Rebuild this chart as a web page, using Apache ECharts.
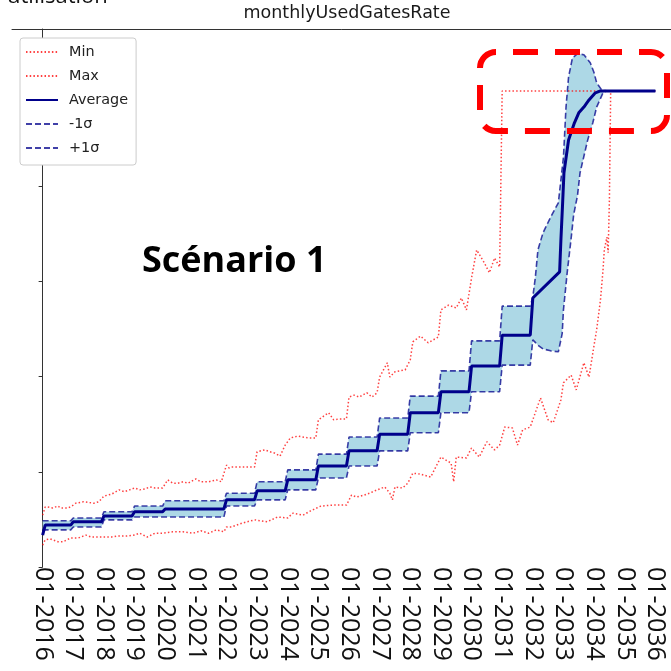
<!DOCTYPE html>
<html>
<head>
<meta charset="utf-8">
<script src="https://cdn.jsdelivr.net/npm/echarts@6/dist/echarts.min.js"></script>
<style>
html,body{margin:0;padding:0;background:#fff;}
#chart{width:671px;height:671px;}
</style>
</head>
<body>
<div id="chart"></div>
<script>
// ---- Data (x = month index from 01-2016, y = monthlyUsedGatesRate) ----
const xTickLabels = ['01-2016','01-2017','01-2018','01-2019','01-2020','01-2021','01-2022','01-2023','01-2024','01-2025','01-2026','01-2027','01-2028','01-2029','01-2030','01-2031','01-2032','01-2033','01-2034','01-2035','01-2036'];

const maxLine = [
[0,0.109],[1,0.126],[2,0.126],[4,0.124],[6,0.128],[7,0.124],[10,0.124],[12,0.130],[13,0.134],[16,0.137],[20,0.134],[22,0.137],
[24,0.149],[27,0.153],[30,0.162],[32,0.158],[34,0.162],[36,0.166],[38,0.162],[40,0.164],[42,0.168],[44,0.166],[47,0.166],
[49,0.183],[51,0.176],[53,0.176],[55,0.179],[57,0.176],[60,0.185],[62,0.179],[65,0.179],[68,0.183],[70,0.179],
[72,0.214],[73,0.208],[74,0.210],[78,0.210],[83,0.210],[84,0.242],[87,0.246],[89,0.242],[91,0.239],[93,0.233],[95,0.256],
[97,0.271],[100,0.275],[104,0.271],[107,0.271],[108,0.309],[112,0.324],[114,0.309],[116,0.311],[119,0.311],
[120,0.357],[122,0.361],[124,0.357],[127,0.366],[129,0.357],[131,0.366],[132,0.399],[135,0.429],[136,0.399],[138,0.410],[142,0.414],
[144,0.435],[145,0.473],[148,0.485],[151,0.471],[155,0.483],[156,0.540],[159,0.550],[162,0.544],[164,0.565],[166,0.540],
[168,0.607],[170,0.666],[173,0.639],[175,0.618],[177,0.649],[179,0.630],[180,1.0],[240,1.0]
];

const minLine = [
[0,0.046],[1,0.057],[3,0.059],[6,0.053],[8,0.053],[11,0.061],[14,0.061],[17,0.067],[19,0.063],[22,0.063],[24,0.063],[27,0.063],
[29,0.065],[33,0.065],[36,0.067],[38,0.071],[41,0.063],[44,0.071],[47,0.071],[51,0.074],[55,0.074],[59,0.071],[62,0.076],[65,0.071],
[68,0.078],[71,0.074],[72,0.084],[74,0.084],[78,0.092],[83,0.099],[88,0.095],[92,0.105],[96,0.103],[98,0.113],[102,0.109],[105,0.118],
[109,0.128],[114,0.130],[119,0.130],[121,0.151],[123,0.147],[126,0.151],[128,0.155],[131,0.162],[134,0.168],[136,0.155],[137,0.141],
[138,0.168],[141,0.166],[143,0.176],[145,0.197],[148,0.195],[152,0.189],[156,0.231],[160,0.218],[161,0.179],[162,0.231],[166,0.229],
[168,0.250],[171,0.231],[174,0.263],[177,0.246],[179,0.256],[181,0.294],[184,0.292],[186,0.256],[188,0.288],[191,0.294],[195,0.355],
[198,0.309],[200,0.303],[203,0.351],[204,0.387],[207,0.403],[209,0.372],[212,0.429],[214,0.399],[216,0.466],[217,0.498],[218.5,0.561],
[219.5,0.624],[220,0.666],[221,0.693],[221.5,0.660],[222,0.771],[222.5,1.0],[240,1.0]
];

const averageLine = [
[0,0.067],[1,0.088],[11,0.088],[12,0.095],[23,0.095],[24,0.107],[35,0.107],[36,0.116],[47,0.116],[48,0.122],[71,0.122],
[72,0.141],[83,0.141],[84,0.160],[95,0.160],[96,0.183],[107,0.183],[108,0.212],[119,0.212],[120,0.244],[131,0.244],
[132,0.279],[143,0.279],[144,0.324],[155,0.324],[156,0.368],[167,0.368],[168,0.422],[179,0.422],[180,0.487],[191,0.487],
[192,0.565],[202.5,0.620],[203,0.687],[203.6,0.756],[204.2,0.828],[206,0.897],[208.3,0.933],[210,0.954],[212,0.966],
[214,0.981],[216.5,0.996],[218.5,1.0],[240,1.0]
];

const minusSigma = [
[0,0.078],[11,0.078],[12,0.084],[23,0.084],[24,0.099],[35,0.099],[36,0.105],[71,0.105],[72,0.128],[83,0.128],
[84,0.141],[95,0.141],[96,0.162],[107,0.162],[108,0.187],[119,0.187],[120,0.212],[131,0.212],[132,0.244],[143,0.244],
[144,0.282],[155,0.282],[156,0.324],[167,0.324],[168,0.368],[179,0.368],[180,0.424],[191,0.424],
[192,0.477],[194,0.466],[196,0.458],[199,0.454],[202,0.452],[203.5,0.49],[204,0.54],[205.5,0.62],[207,0.69],[208,0.74],
[209.5,0.78],[210.5,0.828],[213.5,0.897],[215.5,0.933],[217,0.966],[219.5,0.996],[221,1.0],[240,1.0]
];

const plusSigma = [
[0,0.097],[11,0.097],[12,0.103],[23,0.103],[24,0.116],[35,0.116],[36,0.128],[47,0.128],[48,0.139],[71,0.139],
[72,0.155],[83,0.155],[84,0.179],[95,0.179],[96,0.204],[107,0.204],[108,0.237],[119,0.237],[120,0.273],[131,0.273],
[132,0.313],[143,0.313],[144,0.359],[155,0.359],[156,0.412],[167,0.412],[168,0.475],[179,0.475],[180,0.548],[191,0.548],
[192,0.567],[193,0.609],[194,0.666],[196,0.702],[199,0.735],[202,0.765],[203,0.813],[204,0.861],[205,0.966],[206,1.029],
[207.5,1.069],[209.5,1.078],[212,1.076],[214.5,1.059],[216,1.038],[217,1.017],[219,1.002],[221,1.0],[240,1.0]
];

// ---- Chart ----
const chart = echarts.init(document.getElementById('chart'), null, {renderer:'canvas'});
const redLine = 'rgba(255,0,0,0.75)';
const sigmaColor = 'rgba(0,0,139,0.75)';
const navy = '#00008b';

const xCommon = {type:'value', min:-12, max:252, interval:12, splitLine:{show:false}};

chart.setOption({
  animation:false,
  backgroundColor:'#ffffff',
  grid:{left:12, top:29, right:-15, bottom:104, containLabel:false, outerBoundsMode:'none'},
  xAxis:[
    Object.assign({}, xCommon, {
      position:'bottom',
      axisLine:{show:false},
      axisTick:{show:false},
      axisLabel:{
        show:true, rotate:-90, margin:0, color:'#111',
        fontFamily:'Open Sans', fontSize:25,
        formatter:function(v){const i=Math.round(v/12);return (i>=0&&i<xTickLabels.length)?xTickLabels[i]:'';}
      }
    }),
    Object.assign({}, xCommon, {
      position:'top',
      axisLine:{show:true, lineStyle:{color:'#333', width:1}},
      axisTick:{show:false},
      axisLabel:{show:false}
    })
  ],
  yAxis:{
    type:'value', min:0, max:1.13, interval:0.2,
    axisLine:{show:true, lineStyle:{color:'#333', width:1}},
    axisTick:{show:true, inside:false, length:4, lineStyle:{color:'#333'}},
    axisLabel:{show:false},
    splitLine:{show:false}
  },
  legend:{
    data:['Min','Max','Average','-1σ','+1σ'],
    orient:'vertical', left:20, top:38,
    padding:[7,8,10,5], itemGap:10, itemWidth:32, itemHeight:14,
    backgroundColor:'#fff', borderColor:'#cccccc', borderWidth:1, borderRadius:3,
    itemStyle:{opacity:0},
    textStyle:{fontFamily:'DejaVu Sans', fontSize:14.4, color:'#222', padding:[0,0,0,6]},
    selectedMode:false
  },
  graphic:[
    {type:'text', x:7, y:-3, style:{text:'utilisation', fontFamily:'Open Sans', fontSize:22, fill:'#111', textVerticalAlign:'middle'}},
    {type:'text', x:347, y:13, style:{text:'monthlyUsedGatesRate', fontFamily:'DejaVu Sans', fontSize:17.5, fill:'#1a1a1a', textAlign:'center', textVerticalAlign:'middle'}},
    {type:'text', x:142, y:262, style:{text:'Scénario 1', fontFamily:'Open Sans', fontWeight:'bold', fontSize:36, fill:'#000', textVerticalAlign:'middle'}},
    {type:'rect', z:100, shape:{x:480, y:52, width:187, height:79, r:16},
     style:{fill:'none', stroke:'#ff0000', lineWidth:6, lineDash:[25,17], lineDashOffset:25}}
  ],
  series:[
    {
      type:'custom', name:'band', silent:true, z:1,
      xAxisIndex:0, yAxisIndex:0,
      data:[[0,0]],
      renderItem:function(params, api){
        const pts = plusSigma.map(p=>api.coord(p)).concat(minusSigma.slice().reverse().map(p=>api.coord(p)));
        return {type:'polygon', shape:{points:pts}, style:{fill:'#add8e6', stroke:null}};
      }
    },
    {type:'line', name:'Min', data:minLine, symbol:'none', showSymbol:false, z:3,
     itemStyle:{color:redLine}, lineStyle:{color:redLine, width:1.5, type:[1.5,2.2]}},
    {type:'line', name:'Max', data:maxLine, symbol:'none', showSymbol:false, z:3,
     itemStyle:{color:redLine}, lineStyle:{color:redLine, width:1.5, type:[1.5,2.2]}},
    {type:'line', name:'Average', data:averageLine, symbol:'none', showSymbol:false, z:5,
     itemStyle:{color:navy}, lineStyle:{color:navy, width:3}},
    {type:'line', name:'-1σ', data:minusSigma, symbol:'none', showSymbol:false, z:4,
     itemStyle:{color:sigmaColor}, lineStyle:{color:sigmaColor, width:1.6, type:[6,3]}},
    {type:'line', name:'+1σ', data:plusSigma, symbol:'none', showSymbol:false, z:4,
     itemStyle:{color:sigmaColor}, lineStyle:{color:sigmaColor, width:1.6, type:[6,3]}}
  ]
});
</script>
</body>
</html>
